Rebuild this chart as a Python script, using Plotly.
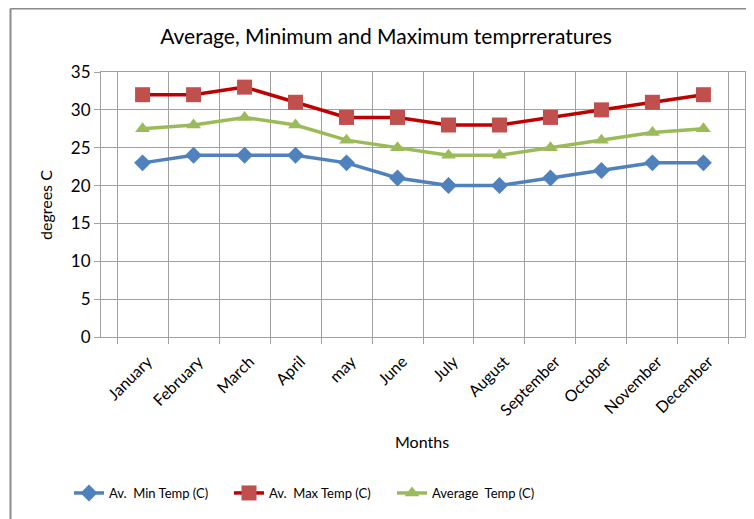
import plotly.graph_objects as go

months = ["January", "February", "March", "April", "may", "June", "July",
          "August", "September", "October", "November", "December"]
min_temp = [23, 24, 24, 24, 23, 21, 20, 20, 21, 22, 23, 23]
max_temp = [32, 32, 33, 31, 29, 29, 28, 28, 29, 30, 31, 32]
avg_temp = [27.5, 28, 29, 28, 26, 25, 24, 24, 25, 26, 27, 27.5]
y_ticks = [0, 5, 10, 15, 20, 25, 30, 35]

FONT = "Lato"
W, H = 754, 519
L, R, T, B = 93, 17, 64, 190
PW, PH = W - L - R, H - T - B


def px(xp):
    return (xp - L) / PW


def py(yp):
    return (H - B - yp) / PH


fig = go.Figure()
fig.add_trace(go.Scatter(
    x=months, y=min_temp, name="Av.  Min Temp (C)", mode="lines+markers",
    line=dict(color="#4F81BD", width=3.5),
    marker=dict(symbol="diamond", size=13, color="#4F81BD"), legend="legend"))
fig.add_trace(go.Scatter(
    x=months, y=max_temp, name="Av.  Max Temp (C)", mode="lines+markers",
    line=dict(color="#C00000", width=3.5),
    marker=dict(symbol="square", size=15, color="#C0504D"), legend="legend2"))
fig.add_trace(go.Scatter(
    x=months, y=avg_temp, name="Average  Temp (C)", mode="lines+markers",
    line=dict(color="#9BBB59", width=3.5),
    marker=dict(symbol="triangle-up", size=13, color="#9BBB59"), legend="legend3"))

leg_common = dict(orientation="h", xanchor="left", yanchor="middle", y=py(485),
                  font=dict(family=FONT, size=13, color="#000000"),
                  bgcolor="rgba(0,0,0,0)", itemsizing="trace")

fig.update_layout(
    width=W, height=H,
    margin=dict(l=L, r=R, t=T, b=B, autoexpand=False),
    paper_bgcolor="white", plot_bgcolor="white",
    font=dict(family=FONT, size=15, color="#000000"),
    title=dict(text="Average, Minimum and Maximum temprreratures",
               x=378 / W, xanchor="center", y=1 - 29 / H, yanchor="middle",
               font=dict(family=FONT, size=21, color="#000000")),
    showlegend=True,
    legend=dict(x=px(61), **leg_common),
    legend2=dict(x=px(221), **leg_common),
    legend3=dict(x=px(384), **leg_common),
    xaxis=dict(
        type="category", tickson="boundaries", showgrid=True, gridcolor="#A0A0A0",
        gridwidth=1, showline=True, linecolor="#A0A0A0", linewidth=1,
        ticks="outside", ticklen=6, tickcolor="#A0A0A0", tickangle=-45,
        tickfont=dict(family=FONT, size=16), automargin=False,
        ticklabelstandoff=8, ticklabelshift=5,
        mirror=True),
    yaxis=dict(
        range=[0, 35], tickvals=y_ticks, showgrid=True, gridcolor="#A0A0A0",
        gridwidth=1, showline=True, linecolor="#A0A0A0", linewidth=1,
        ticks="outside", ticklen=6, tickcolor="#A0A0A0", automargin=False,
        tickfont=dict(family=FONT, size=17),
        zeroline=False, mirror=True),
    annotations=[
        dict(text="Months", xref="paper", yref="paper", x=px(414), y=py(433),
             xanchor="center", yanchor="middle", showarrow=False,
             font=dict(family=FONT, size=16, color="#000000")),
        dict(text="degrees C", xref="paper", yref="paper", x=px(37), y=py(197),
             xanchor="center", yanchor="middle", showarrow=False, textangle=-90,
             font=dict(family=FONT, size=16, color="#000000")),
    ],
)

# outer chart frame (left and top edges visible)
fig.add_shape(type="line", xref="paper", yref="paper",
              x0=px(2.5), x1=px(2.5), y0=py(H + 10), y1=py(0.5),
              line=dict(color="#8C8C8C", width=2))
fig.add_shape(type="line", xref="paper", yref="paper",
              x0=px(2.5), x1=px(W + 10), y0=py(0.5), y1=py(0.5),
              line=dict(color="#8C8C8C", width=2))

fig.write_html("out.html")
